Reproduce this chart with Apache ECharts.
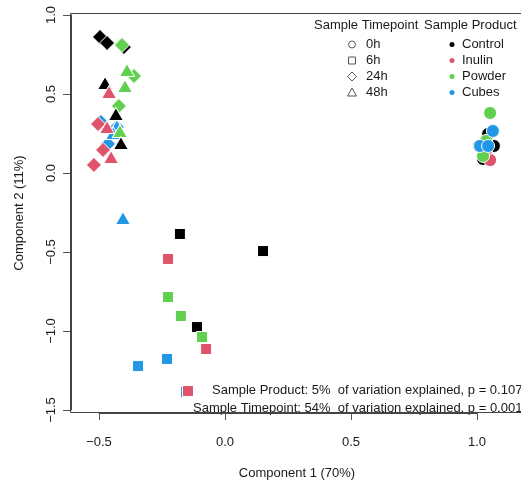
<!DOCTYPE html>
<html>
<head>
<meta charset="utf-8">
<script src="https://cdn.jsdelivr.net/npm/echarts@6/dist/echarts.min.js"></script>
<style>
html,body{margin:0;padding:0;background:#fff;}
#chart{width:521px;height:482px;}
</style>
</head>
<body>
<div id="chart"></div>
<script>
// ---- data ----
const products = ['Control', 'Inulin', 'Powder', 'Cubes'];
const productColors = ['#000000', '#DF536B', '#61D04F', '#2297E6'];
const timepoints = ['0h', '6h', '24h', '48h'];
const xTicks = [-0.5, 0.0, 0.5, 1.0];
const yTicks = [-1.5, -1.0, -0.5, 0.0, 0.5, 1.0];

// rows: [component1, component2, product]
const points0h = [
  [1.044, 0.247, 'Control'], [1.067, 0.171, 'Control'], [1.024, 0.089, 'Control'],
  [1.008, 0.171, 'Inulin'], [1.052, 0.082, 'Inulin'], [1.036, 0.146, 'Inulin'],
  [1.052, 0.380, 'Powder'], [1.036, 0.203, 'Powder'], [1.024, 0.108, 'Powder'],
  [1.063, 0.266, 'Cubes'], [1.012, 0.171, 'Cubes'], [1.044, 0.171, 'Cubes']
];
const points6h = [
  [-0.179, -0.386, 'Control'], [0.151, -0.494, 'Control'], [-0.111, -0.975, 'Control'],
  [-0.226, -0.544, 'Inulin'], [-0.075, -1.114, 'Inulin'],
  [-0.226, -0.785, 'Powder'], [-0.175, -0.905, 'Powder'], [-0.091, -1.038, 'Powder'],
  [-0.230, -1.177, 'Cubes'], [-0.345, -1.222, 'Cubes'], [-0.155, -1.386, 'Cubes'],
  [-0.147, -1.380, 'Inulin']
];
const points24h = [
  [-0.496, 0.861, 'Control'], [-0.468, 0.823, 'Control'], [-0.401, 0.797, 'Control'],
  [-0.492, 0.323, 'Cubes'], [-0.429, 0.291, 'Cubes'], [-0.464, 0.184, 'Cubes'],
  [-0.504, 0.310, 'Inulin'], [-0.484, 0.146, 'Inulin'], [-0.520, 0.051, 'Inulin'],
  [-0.409, 0.810, 'Powder'], [-0.361, 0.614, 'Powder'], [-0.421, 0.424, 'Powder']
];
const points48h = [
  [-0.405, -0.285, 'Cubes'], [-0.429, 0.297, 'Cubes'], [-0.444, 0.253, 'Cubes'],
  [-0.389, 0.652, 'Powder'], [-0.397, 0.551, 'Powder'], [-0.417, 0.266, 'Powder'],
  [-0.476, 0.570, 'Control'], [-0.433, 0.373, 'Control'], [-0.413, 0.190, 'Control'],
  [-0.460, 0.513, 'Inulin'], [-0.468, 0.291, 'Inulin'], [-0.452, 0.101, 'Inulin']
];

const annotationLines = [
  'Sample Product: 5%  of variation explained, p = 0.107',
  'Sample Timepoint: 54%  of variation explained, p = 0.001'
];
const xTitle = 'Component 1 (70%)';
const yTitle = 'Component 2 (11%)';

// ---- chart ----
const FONT = '"Liberation Sans", Arial, sans-serif';
const FS = 13;
const TXT = '#1a1a1a';
const AX = '#444';

function colorOf(p) { return productColors[products.indexOf(p)]; }
function mkData(rows) {
  return rows.map(r => ({ value: [r[0], r[1]], itemStyle: { color: colorOf(r[2]) } }));
}
function fmt(v) {
  return (v < 0 ? '\u2212' : '') + Math.abs(v).toFixed(1);
}

const seriesDefs = [
  { name: '0h', rows: points0h, symbol: 'circle', size: 13 },
  { name: '6h', rows: points6h, symbol: 'rect', size: 11 },
  { name: '24h', rows: points24h, symbol: 'diamond', size: 15 },
  { name: '48h', rows: points48h, symbol: 'triangle', size: [15, 13] }
];

const chart = echarts.init(document.getElementById('chart'), null, { renderer: 'canvas' });

const font = FS + 'px ' + FONT;
const legendX1 = 352, legendX2 = 452, legendY0 = 44.5, legendDy = 16;
const graphics = [];
// plot box
graphics.push({
  type: 'rect', shape: { x: 70.5, y: 13.5, width: 470, height: 399 },
  style: { fill: 'none', stroke: AX, lineWidth: 1 }, silent: true, z: 10
});
// legend titles
graphics.push({ type: 'text', x: 314, y: 25, style: { text: 'Sample Timepoint', font: font, fill: TXT, textVerticalAlign: 'middle' } });
graphics.push({ type: 'text', x: 424, y: 25, style: { text: 'Sample Product', font: font, fill: TXT, textVerticalAlign: 'middle' } });
timepoints.forEach((t, i) => {
  const cy = legendY0 + i * legendDy;
  const st = { fill: 'none', stroke: '#555', lineWidth: 1 };
  if (i === 0) graphics.push({ type: 'circle', shape: { cx: legendX1, cy: cy, r: 3.5 }, style: st });
  if (i === 1) graphics.push({ type: 'rect', shape: { x: legendX1 - 3.5, y: cy - 3.5, width: 7, height: 7 }, style: st });
  if (i === 2) graphics.push({ type: 'polygon', shape: { points: [[legendX1, cy - 4.5], [legendX1 + 4.5, cy], [legendX1, cy + 4.5], [legendX1 - 4.5, cy]] }, style: st });
  if (i === 3) graphics.push({ type: 'polygon', shape: { points: [[legendX1, cy - 4.5], [legendX1 + 4.5, cy + 3.5], [legendX1 - 4.5, cy + 3.5]] }, style: st });
  graphics.push({ type: 'text', x: legendX1 + 14, y: cy, style: { text: t, font: font, fill: TXT, textVerticalAlign: 'middle' } });
});
products.forEach((p, i) => {
  const cy = legendY0 + i * legendDy;
  graphics.push({ type: 'circle', shape: { cx: legendX2, cy: cy, r: 2.5 }, style: { fill: productColors[i] } });
  graphics.push({ type: 'text', x: legendX2 + 10, y: cy, style: { text: p, font: font, fill: TXT, textVerticalAlign: 'middle' } });
});
// annotation
graphics.push({ type: 'text', x: 212, y: 390, style: { text: annotationLines[0], font: font, fill: TXT, textVerticalAlign: 'middle' } });
graphics.push({ type: 'text', x: 193, y: 408, style: { text: annotationLines[1], font: font, fill: TXT, textVerticalAlign: 'middle' } });
// axis titles
graphics.push({ type: 'text', x: 297, y: 473, style: { text: xTitle, font: font, fill: TXT, textAlign: 'center', textVerticalAlign: 'middle' } });
graphics.push({ type: 'text', x: 19, y: 213, rotation: Math.PI / 2, style: { text: yTitle, font: font, fill: TXT, textAlign: 'center', textVerticalAlign: 'middle' } });

chart.setOption({
  animation: false,
  backgroundColor: '#fff',
  grid: { left: 99, top: 15, width: 378, height: 395, containLabel: false },
  xAxis: {
    type: 'value', min: xTicks[0], max: xTicks[xTicks.length - 1], interval: 0.5,
    position: 'bottom', offset: 3,
    axisLine: { show: true, onZero: false, lineStyle: { color: AX, width: 1 } },
    axisTick: { show: true, length: 7, inside: false, lineStyle: { color: '#555', width: 1 } },
    splitLine: { show: false },
    axisLabel: { formatter: fmt, fontSize: FS, fontFamily: FONT, color: TXT, margin: 23 }
  },
  yAxis: {
    type: 'value', min: yTicks[0], max: yTicks[yTicks.length - 1], interval: 0.5,
    position: 'left', offset: 28,
    axisLine: { show: true, onZero: false, lineStyle: { color: AX, width: 1 } },
    axisTick: { show: true, length: 8, inside: false, lineStyle: { color: '#555', width: 1 } },
    splitLine: { show: false },
    axisLabel: { formatter: fmt, fontSize: FS, fontFamily: FONT, color: TXT, rotate: 90, margin: 13 }
  },
  series: seriesDefs.map(s => ({
    type: 'scatter', name: s.name, symbol: s.symbol, symbolSize: s.size,
    clip: false,
    itemStyle: { borderColor: '#ffffff', borderWidth: 1, opacity: 1 },
    emphasis: { disabled: true },
    data: mkData(s.rows)
  })),
  graphic: graphics
});
</script>
</body>
</html>
